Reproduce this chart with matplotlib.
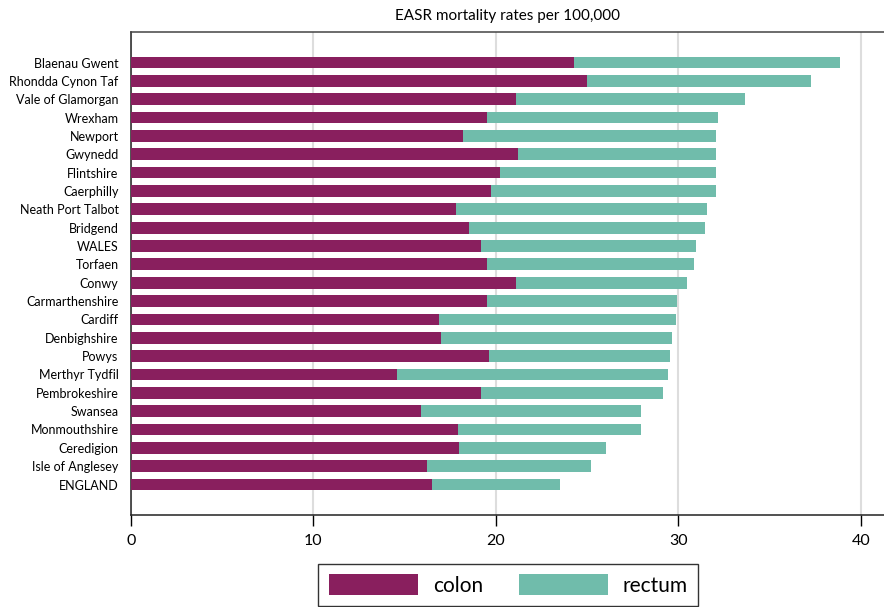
import matplotlib
matplotlib.use("Agg")
import matplotlib.pyplot as plt
import numpy as np

# EASR mortality rates per 100,000
areas = ["Blaenau Gwent", "Rhondda Cynon Taf", "Vale of Glamorgan", "Wrexham",
         "Newport", "Gwynedd", "Flintshire", "Caerphilly", "Neath Port Talbot",
         "Bridgend", "WALES", "Torfaen", "Conwy", "Carmarthenshire", "Cardiff",
         "Denbighshire", "Powys", "Merthyr Tydfil", "Pembrokeshire", "Swansea",
         "Monmouthshire", "Ceredigion", "Isle of Anglesey", "ENGLAND"]
colon = [24.3, 25.0, 21.1, 19.5, 18.2, 21.2, 20.2, 19.7, 17.8, 18.5, 19.2, 19.5,
         21.1, 19.5, 16.9, 17.0, 19.6, 14.6, 19.2, 15.9, 17.9, 18.0, 16.2, 16.5]
total = [38.85, 37.25, 33.65, 32.15, 32.05, 32.05, 32.05, 32.05, 31.55, 31.45,
         30.95, 30.85, 30.45, 29.9, 29.85, 29.65, 29.55, 29.4, 29.15, 27.95,
         27.95, 26.05, 25.2, 23.5]
rectum = [t - c for t, c in zip(total, colon)]

colon_col = "#891f5e"
rectum_col = "#70bcab"

plt.rcParams["font.family"] = ["Lato", "DejaVu Sans"]

fig = plt.figure(figsize=(8.84, 6.07), dpi=100)
# axes run past the right edge of the figure, as in the reference
ax = fig.add_axes([0.1482, 0.1516, 0.86, 0.7962])

y = np.arange(len(areas))
ax.barh(y, colon, height=0.64, color=colon_col, label="colon", zorder=3)
ax.barh(y, rectum, left=colon, height=0.64, color=rectum_col, label="rectum", zorder=3)

ax.set_ylim(len(areas) - 1 + 1.66, -1.68)
ax.set_xlim(0, 41.66)
ax.set_yticks(y)
ax.set_yticklabels(areas, fontsize=9)
ax.set_xticks([0, 10, 20, 30, 40])
ax.tick_params(axis="y", length=0, pad=9)
ax.tick_params(axis="x", length=8, width=1, labelsize=11.5, pad=6, direction="out")
ax.grid(axis="x", color="#dddddd", linewidth=1.5, zorder=0)

for side in ["left", "bottom"]:
    ax.spines[side].set_linewidth(1.1)
    ax.spines[side].set_color("#222222")
ax.spines["top"].set_linewidth(1.1)
ax.spines["top"].set_color("#444444")
ax.spines["right"].set_visible(False)

fig.suptitle("EASR mortality rates per 100,000", fontsize=11, x=0.574, y=0.985)

leg = fig.legend(loc="center", bbox_to_anchor=(0.575, 0.036), ncol=2,
                 fontsize=15, frameon=True, fancybox=False, edgecolor="black",
                 handlelength=4.3, handleheight=1.15, handletextpad=0.7,
                 columnspacing=1.7, borderpad=0.5, borderaxespad=0)
leg.get_frame().set_linewidth(1.0)

fig.savefig("out.png", dpi=100)
